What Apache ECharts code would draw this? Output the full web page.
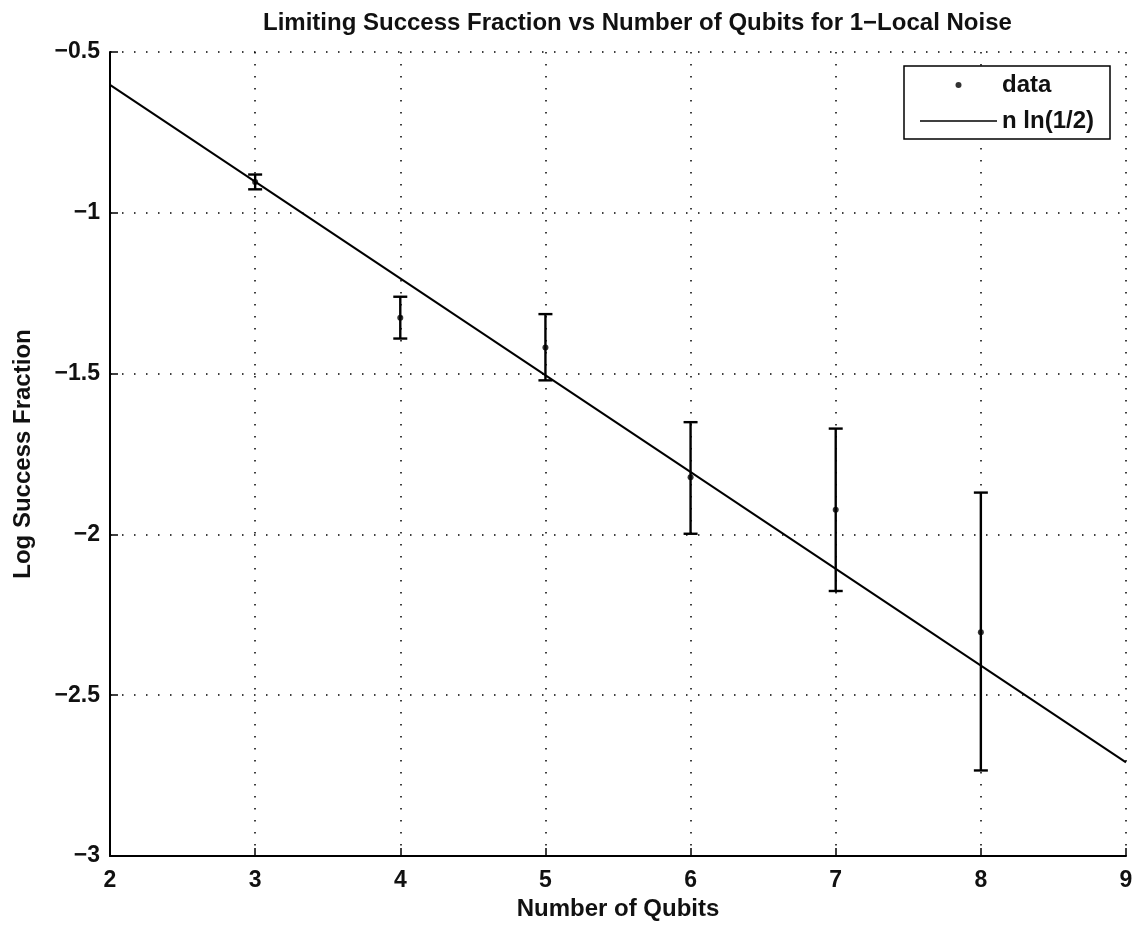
<!DOCTYPE html>
<html>
<head>
<meta charset="utf-8">
<script src="https://cdn.jsdelivr.net/npm/echarts@6/dist/echarts.min.js"></script>
<style>
html,body{margin:0;padding:0;background:#fff;}
#chart{width:1141px;height:927px;}
</style>
</head>
<body>
<div id="chart"></div>
<script>
// Data
var qubits = [3, 4, 5, 6, 7, 8];
var meanLog = [-0.904, -1.326, -1.419, -1.822, -1.923, -2.304];
var upperLog = [-0.881, -1.261, -1.315, -1.651, -1.671, -1.870];
var lowerLog = [-0.927, -1.391, -1.521, -1.998, -2.176, -2.734];
var fitX = [2, 9];
var fitY = [-0.602, -2.709];
var xTicks = [2, 3, 4, 5, 6, 7, 8, 9];
var yTicks = [-3, -2.5, -2, -1.5, -1, -0.5];

var FONT = '"Liberation Sans", Arial, Helvetica, sans-serif';
function minus(v){ return String(v).replace('-', '\u2212'); }

var scatterData = qubits.map(function(q, i){ return [q, meanLog[i]]; });
var errData = qubits.map(function(q, i){ return [q, lowerLog[i], upperLog[i]]; });
var fitData = fitX.map(function(x, i){ return [x, fitY[i]]; });

var chart = echarts.init(document.getElementById('chart'), null, {renderer: 'canvas'});
var gridLine = {show: true, lineStyle: {color: '#000', width: 1.5, type: [1.5, 10.5]}};
var textBase = {fontFamily: FONT, fontWeight: 'bold', color: '#111'};
chart.setOption({
  backgroundColor: '#fff',
  animation: false,
  title: {
    text: 'Limiting Success Fraction vs Number of Qubits for 1\u2212Local Noise',
    left: 258, top: 6,
    textStyle: Object.assign({fontSize: 24}, textBase)
  },
  grid: {left: 110, right: 15, top: 52, bottom: 71, containLabel: false},
  legend: {
    orient: 'vertical',
    left: 904, top: 66,
    padding: [7, 16, 6, 16],
    itemGap: 12,
    itemWidth: 77, itemHeight: 6,
    borderColor: '#000', borderWidth: 1.5,
    backgroundColor: '#fff',
    textStyle: Object.assign({fontSize: 24}, textBase),
    data: [
      {name: 'data', icon: 'circle', itemStyle: {color: '#000'}},
      {name: 'n ln(1/2)', icon: 'path://M0,0H100V2H0Z', itemStyle: {color: '#000'}}
    ]
  },
  xAxis: {
    type: 'value', min: xTicks[0], max: xTicks[xTicks.length - 1], interval: 1,
    name: 'Number of Qubits', nameLocation: 'middle', nameGap: 38,
    nameTextStyle: Object.assign({fontSize: 24}, textBase),
    axisLine: {show: true, onZero: false, lineStyle: {color: '#000', width: 2}},
    axisTick: {show: true, inside: true, length: 8, lineStyle: {color: '#000', width: 1.5}},
    axisLabel: Object.assign({fontSize: 23, margin: 13, formatter: minus}, textBase),
    splitLine: gridLine
  },
  yAxis: {
    type: 'value', min: yTicks[0], max: yTicks[yTicks.length - 1], interval: 0.5,
    name: 'Log Success Fraction', nameLocation: 'middle', nameGap: 75, nameRotate: 90,
    nameTextStyle: Object.assign({fontSize: 24}, textBase),
    axisLine: {show: true, onZero: false, lineStyle: {color: '#000', width: 2}},
    axisTick: {show: true, inside: true, length: 8, lineStyle: {color: '#000', width: 1.5}},
    axisLabel: Object.assign({fontSize: 23, margin: 10, formatter: minus}, textBase),
    splitLine: gridLine
  },
  series: [
    {
      name: 'n ln(1/2)', type: 'line', data: fitData, symbol: 'none', showSymbol: false,
      lineStyle: {color: '#000', width: 2}, itemStyle: {color: '#000'}, z: 3
    },
    {
      name: 'errorbars', type: 'custom', data: errData, z: 4,
      encode: {x: 0, y: [1, 2]},
      renderItem: function(params, api){
        var x = api.value(0);
        var lo = api.coord([x, api.value(1)]);
        var hi = api.coord([x, api.value(2)]);
        var cap = 7;
        var st = {stroke: '#000', lineWidth: 2.4};
        return {type: 'group', children: [
          {type: 'line', shape: {x1: lo[0], y1: lo[1], x2: hi[0], y2: hi[1]}, style: st},
          {type: 'line', shape: {x1: hi[0] - cap, y1: hi[1], x2: hi[0] + cap, y2: hi[1]}, style: st},
          {type: 'line', shape: {x1: lo[0] - cap, y1: lo[1], x2: lo[0] + cap, y2: lo[1]}, style: st}
        ]};
      }
    },
    {
      name: 'data', type: 'scatter', data: scatterData, symbol: 'circle', symbolSize: 6,
      itemStyle: {color: '#000'}, z: 5
    }
  ]
});
</script>
</body>
</html>
